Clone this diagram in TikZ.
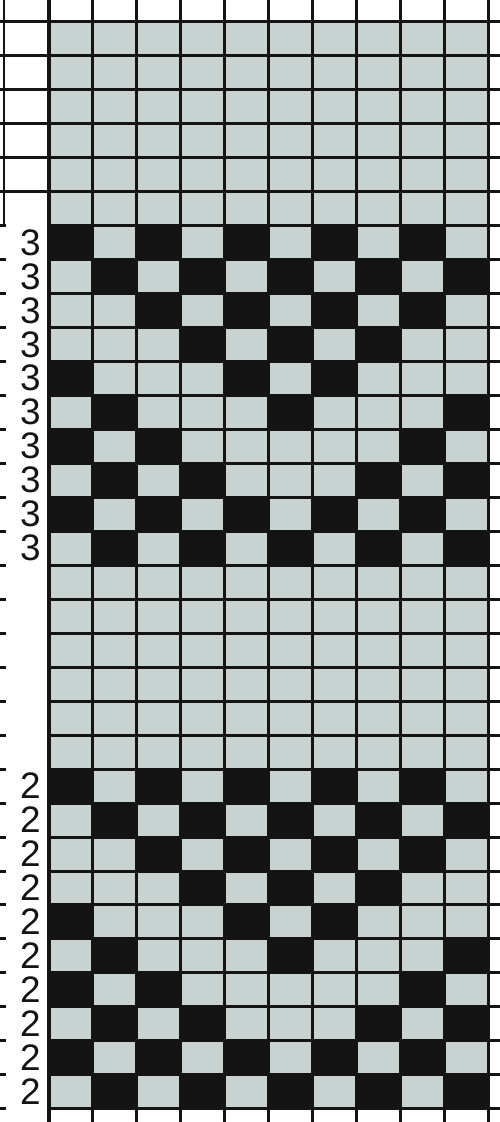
\documentclass[tikz,border=0pt]{standalone}
\usepackage{fontspec}
\setmainfont{Liberation Sans}
\usepackage{xcolor}
\usepackage{tikz}
\definecolor{ink}{HTML}{141414}
\definecolor{yarn}{HTML}{C8D3D1}
\definecolor{paper}{HTML}{FFFFFF}

\begin{document}
\begin{tikzpicture}[x=0.02cm, y=-0.02cm,
  rule/.style={draw=ink, line width=0.06cm},
  digit/.style={anchor=east, inner sep=0pt, text=ink, font=\fontsize{21}{21}\selectfont}]
  \def\colW{43.9}
  \def\rowH{33.98}
  \def\gx{49}
  \def\gy{21.5}
  \pgfmathsetmacro{\gxr}{\gx+10*\colW}
  \pgfmathsetmacro{\gyb}{\gy+32*\rowH}
  \fill[paper] (0,0) rectangle (500,1122);
  \useasboundingbox (0,0) rectangle (500,1122);
  \fill[yarn] (\gx,\gy) rectangle (\gxr,\gyb);
  \foreach \base/\num in {6/3, 22/2} {
    \foreach \r/\blk [count=\ri from 0] in {a/{1,3,5,7,9}, b/{2,4,6,8,10}, c/{3,5,7,9},
        d/{4,6,8}, e/{1,5,7}, f/{2,6,10}, g/{1,3,9}, h/{2,4,8,10},
        i/{1,3,5,7,9}, j/{2,4,6,8,10}} {
      \pgfmathsetmacro{\yt}{\gy+(\base+\ri)*\rowH}
      \foreach \c in \blk {
        \fill[ink] ({\gx+(\c-1)*\colW},\yt) rectangle ++(\colW,\rowH);
      }
      \node[digit] (n\num-\ri) at (41,\yt+\rowH/2) {\num};
    }
  }
  \foreach \i in {0,...,10}
    \draw[rule] ({\gx+\i*\colW},0) -- ({\gx+\i*\colW},1122);
  \draw[draw=ink, line width=0.09cm] (\gx,0) -- (\gx,1122);
  \foreach \k in {0,...,32} {
    \pgfmathsetmacro{\yy}{\gy+\k*\rowH}
    \ifnum\k<6
      \draw[rule] (0,\yy) -- (500,\yy);
    \else
      \draw[rule] (0,\yy) -- (6,\yy);
      \draw[rule] (\gx,\yy) -- (500,\yy);
    \fi
  }
  \draw[rule] (4,0) -- (4,{\gy+6*\rowH});
\end{tikzpicture}
\end{document}
